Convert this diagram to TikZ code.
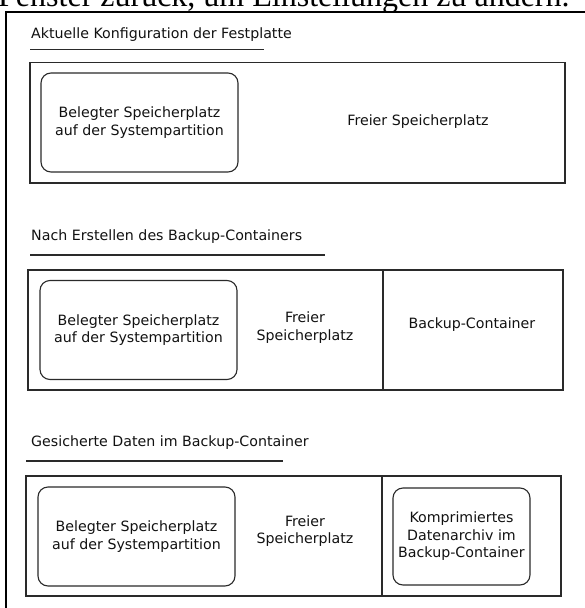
\documentclass[tikz,border=0pt]{standalone}
\usepackage{fontspec}
\setmainfont{DejaVu Sans}
\newfontfamily\serifhead{Liberation Serif}
\usepackage{xcolor}
\usetikzlibrary{positioning}
\definecolor{linec}{HTML}{2A2A2A}
\definecolor{txtc}{HTML}{111111}
\newcommand{\fs}{\fontsize{14.2}{17.5}\selectfont}
\tikzset{
  panel/.style={draw=linec,line width=1.2pt},
  used/.style={draw=linec,line width=1.1pt,rounded corners=10pt,align=center,inner sep=0pt,
    minimum width=197pt,minimum height=99pt,font=\fs,text=txtc},
  lbl/.style={align=center,inner sep=0pt,font=\fs,text=txtc},
  head/.style={anchor=west,inner sep=0pt,font=\fs,text=txtc},
  uline/.style={draw=linec,line width=1.2pt}
}

\begin{document}
\begin{tikzpicture}[x=1pt,y=-1pt]
\useasboundingbox (0,0) rectangle (585,608);
% cut-off line of the page above
\node[anchor=base west,inner sep=0pt,font=\serifhead\fontsize{32}{36}\selectfont] (page) at (-2,6.5) {Fenster zurück, um Einstellungen zu ändern.};
\draw[black,line width=2pt] (5.5,610) -- (5.5,11.5) -- (587,11.5);

% panel 1
\node[head] (head1) at (31,35) {Aktuelle Konfiguration der Festplatte};
\draw[uline] (30,49.5) -- (264,49.5);
\draw[panel] (30,62.5) rectangle (565,183);
\node[lbl] (free1) at (418,122) {Freier Speicherplatz};

% panel 2
\node[head] (head2) at (31,237) {Nach Erstellen des Backup-Containers};
\draw[uline] (30,255) -- (325,255);
\draw[panel] (28,270) rectangle (563,390);
\draw[panel] (383,270) -- (383,390);
\node[lbl] (free2) at (305,327.5) {Freier\\Speicherplatz};
\node[lbl] (cont2) at (472,325) {Backup-Container};

% panel 3
\node[head] (head3) at (31,443) {Gesicherte Daten im Backup-Container};
\draw[uline] (26,461) -- (283,461);
\draw[panel] (26,476) rectangle (561,596);
\draw[panel] (382,476) -- (382,596);
\node[lbl] (free3) at (305,531) {Freier\\Speicherplatz};
\node[used,minimum width=137pt,minimum height=97pt] (arch) at (461.5,536.5) {Komprimiertes\\Datenarchiv im\\Backup-Container};

\foreach \n/\cx/\cy in {1/139.5/122.5,2/138.5/330,3/136.5/536.5}
  \node[used] (used\n) at (\cx,\cy) {Belegter Speicherplatz\\auf der Systempartition};
\end{tikzpicture}
\end{document}
